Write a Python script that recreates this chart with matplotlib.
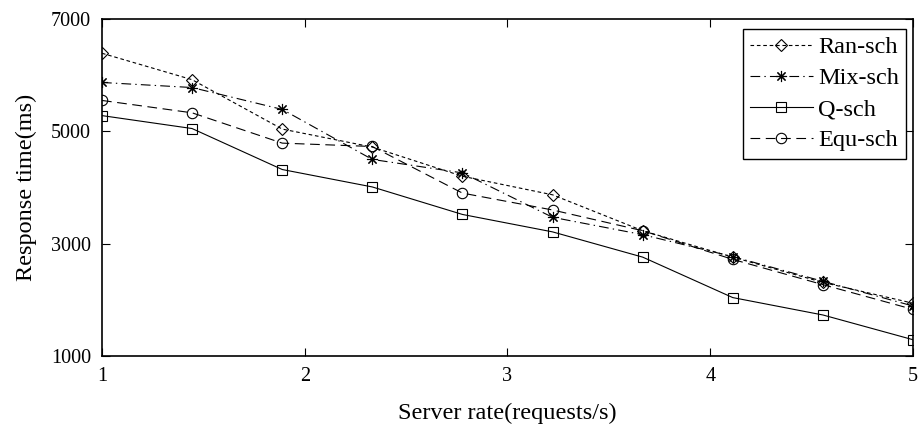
import matplotlib
matplotlib.use("Agg")
import matplotlib.pyplot as plt

plt.rcParams['font.family'] = ['Liberation Serif', 'DejaVu Serif']
plt.rcParams['lines.scale_dashes'] = False

# Server rate (requests/s)
server_rate = [1.0, 1.444, 1.889, 2.333, 2.778, 3.222, 3.667, 4.111, 4.556, 5.0]

# Response time (ms) per scheduling scheme
ran_sch = [6390, 5920, 5040, 4720, 4200, 3870, 3230, 2760, 2310, 1940]
mix_sch = [5870, 5780, 5390, 4500, 4260, 3470, 3160, 2770, 2330, 1890]
q_sch = [5280, 5050, 4320, 4010, 3520, 3210, 2760, 2040, 1730, 1290]
equ_sch = [5550, 5330, 4790, 4730, 3900, 3600, 3230, 2720, 2270, 1830]

x_ticks = [1, 2, 3, 4, 5]
y_ticks = [1000, 3000, 5000, 7000]

fig = plt.figure(figsize=(9.23, 4.28), dpi=100)
ax = fig.add_axes([102 / 923, 1 - 356 / 428, 811 / 923, 337 / 428])

lw = 0.8
ax.plot(server_rate, ran_sch, color='black', lw=lw, dashes=(2.6, 2.0),
        marker='D', ms=6.5, mfc='none', mec='black', mew=0.8, label='Ran-sch')
ax.plot(server_rate, mix_sch, color='black', lw=lw, dashes=(7, 3, 1, 3),
        marker=(8, 2, 0), ms=8, mec='black', mew=0.8, label='Mix-sch')
ax.plot(server_rate, q_sch, color='black', lw=lw, linestyle='-',
        marker='s', ms=7, mfc='none', mec='black', mew=0.8, label='Q-sch')
ax.plot(server_rate, equ_sch, color='black', lw=lw, dashes=(7, 4),
        marker='o', ms=7.5, mfc='none', mec='black', mew=0.8, label='Equ-sch')

ax.set_xlim(1, 5)
ax.set_ylim(1000, 7000)
ax.set_xticks(x_ticks)
ax.set_yticks(y_ticks)
ax.set_xticklabels([str(t) for t in x_ticks])
ax.set_yticklabels([str(t) for t in y_ticks])

ax.tick_params(direction='in', length=6, width=0.8, top=True, right=True,
               labelsize=14.5, pad=8, colors='black')
for s in ax.spines.values():
    s.set_linewidth(1.2)
    s.set_color('black')

ax.set_xlabel('Server rate(requests/s)', fontsize=17.5, labelpad=12)
ax.set_ylabel('Response time(ms)', fontsize=17.5, labelpad=10)

leg = ax.legend(loc='upper right', bbox_to_anchor=(0.9914, 0.970),
                borderaxespad=0, fontsize=17.5, handlelength=2.6,
                handletextpad=0.2, labelspacing=0.37, borderpad=0.3,
                fancybox=False, framealpha=1, edgecolor='black')
leg.get_frame().set_linewidth(1.0)

fig.savefig('out.png', dpi=100)
